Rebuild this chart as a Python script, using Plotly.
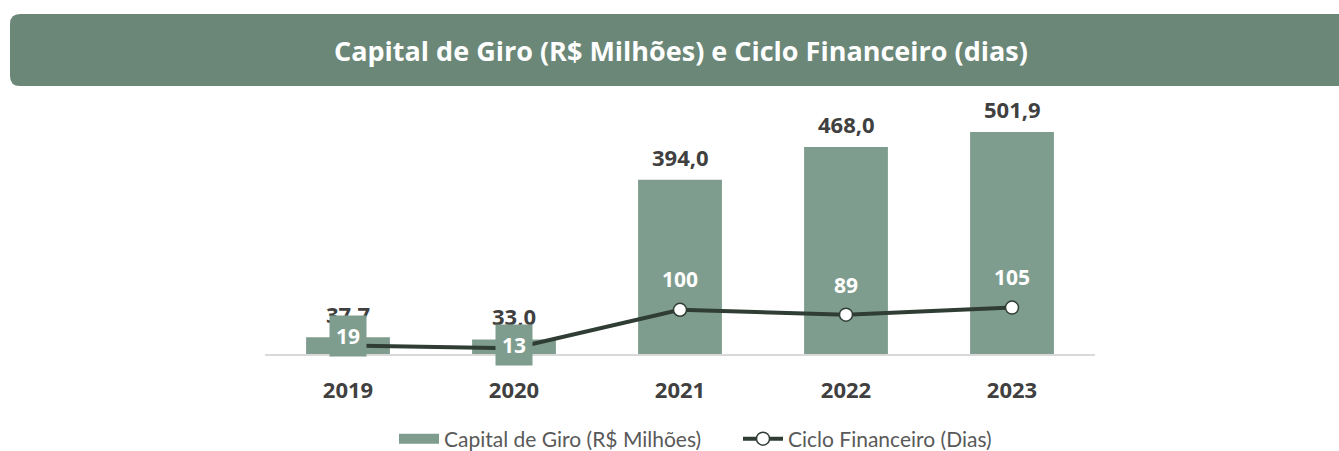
import plotly.graph_objects as go

years = ["2019", "2020", "2021", "2022", "2023"]
capital_giro = [37.7, 33.0, 394.0, 468.0, 501.9]
ciclo_fin = [19, 13, 100, 89, 105]
capital_labels = ["37,7", "33,0", "394,0", "468,0", "501,9"]
ciclo_labels = ["19", "13", "100", "89", "105"]

BAR = "#7f9d8e"
BANNER = "#6b8778"
LINE = "#2f3d35"
TEXT = "#404040"
FONT = "Open Sans"

# layout geometry (pixels)
W, H = 1339, 451
L, R, T, B = 265, 244, 100, 97
PW, PH = W - L - R, H - T - B

def px_x(p):
    return (p - L) / PW

def px_y(p):
    return (H - B - p) / PH

fig = go.Figure()
fig.add_trace(go.Bar(
    x=years, y=capital_giro, name="Capital de Giro (R$ Milhões)",
    marker=dict(color=BAR, line=dict(width=0)), width=0.505, showlegend=False,
))
# legend swatch for the bars (wide rectangle like the original)
fig.add_trace(go.Scatter(
    x=[None], y=[None], mode="lines", name="Capital de Giro (R$ Milhões)",
    line=dict(color=BAR, width=14), showlegend=True,
))
fig.add_trace(go.Scatter(
    x=years, y=ciclo_fin, name="Ciclo Financeiro (Dias)", mode="lines+markers",
    line=dict(color=LINE, width=4),
    marker=dict(size=13, color="white", line=dict(color=LINE, width=1.5)),
))

annotations = []
for i, (v, lab) in enumerate(zip(capital_giro, capital_labels)):
    annotations.append(dict(
        x=i, y=v, xref="x", yref="y", text=f"<b>{lab}</b>", showarrow=False,
        yanchor="bottom", yshift=6, font=dict(family=FONT, size=22, color=TEXT),
    ))
line_shift = [10, 3, 31, 30, 31]
for i, (v, lab, s) in enumerate(zip(ciclo_fin, ciclo_labels, line_shift)):
    annotations.append(dict(
        x=i, y=v, xref="x", yref="y", text=f"<b>{lab}</b>", showarrow=False,
        yanchor="middle", yshift=s, bgcolor=BAR, borderpad=6,
        font=dict(family=FONT, size=21, color="white"),
    ))

# title banner
x0, x1 = px_x(10), px_x(1345)
yt, yb = px_y(14), px_y(86)
rx, ry = 10 / PW, 10 / PH
path = (f"M{x0+rx},{yt} L{x1},{yt} L{x1},{yb} L{x0+rx},{yb} "
        f"Q{x0},{yb} {x0},{yb+ry} L{x0},{yt-ry} Q{x0},{yt} {x0+rx},{yt} Z")
shapes = [dict(type="path", xref="paper", yref="paper", path=path,
               fillcolor=BANNER, line=dict(width=0), layer="below")]
annotations.append(dict(
    x=px_x(681), y=px_y(51), xref="paper", yref="paper",
    text="<b>Capital de Giro (R$ Milhões) e Ciclo Financeiro (dias)</b>",
    showarrow=False, xanchor="center", yanchor="middle",
    font=dict(family=FONT, size=27, color="white"),
))

fig.update_layout(
    width=W, height=H,
    margin=dict(l=L, r=R, t=T, b=B, autoexpand=False),
    paper_bgcolor="white", plot_bgcolor="white",
    showlegend=True,
    legend=dict(orientation="h", x=px_x(394), y=px_y(439), xanchor="left", yanchor="middle",
                font=dict(family="Lato", size=21, color="#595959"), itemwidth=40,
                entrywidth=289, entrywidthmode="pixels",
                traceorder="normal"),
    shapes=shapes, annotations=annotations,
)
fig.update_xaxes(
    type="category", range=[-0.5, len(years) - 0.5], autorange=False,
    showline=True, linecolor="#d9d9d9", linewidth=2, showgrid=False,
    ticks="outside", ticklen=16, tickcolor="rgba(0,0,0,0)",
    tickfont=dict(family=FONT, size=22, color=TEXT, weight="bold"),
    fixedrange=True,
)
fig.update_yaxes(range=[0, PH / 0.4423], autorange=False, visible=False,
                 showgrid=False, zeroline=False)

fig.write_html("out.html", config={"displayModeBar": False},
               post_script="document.body.style.margin='0';")
